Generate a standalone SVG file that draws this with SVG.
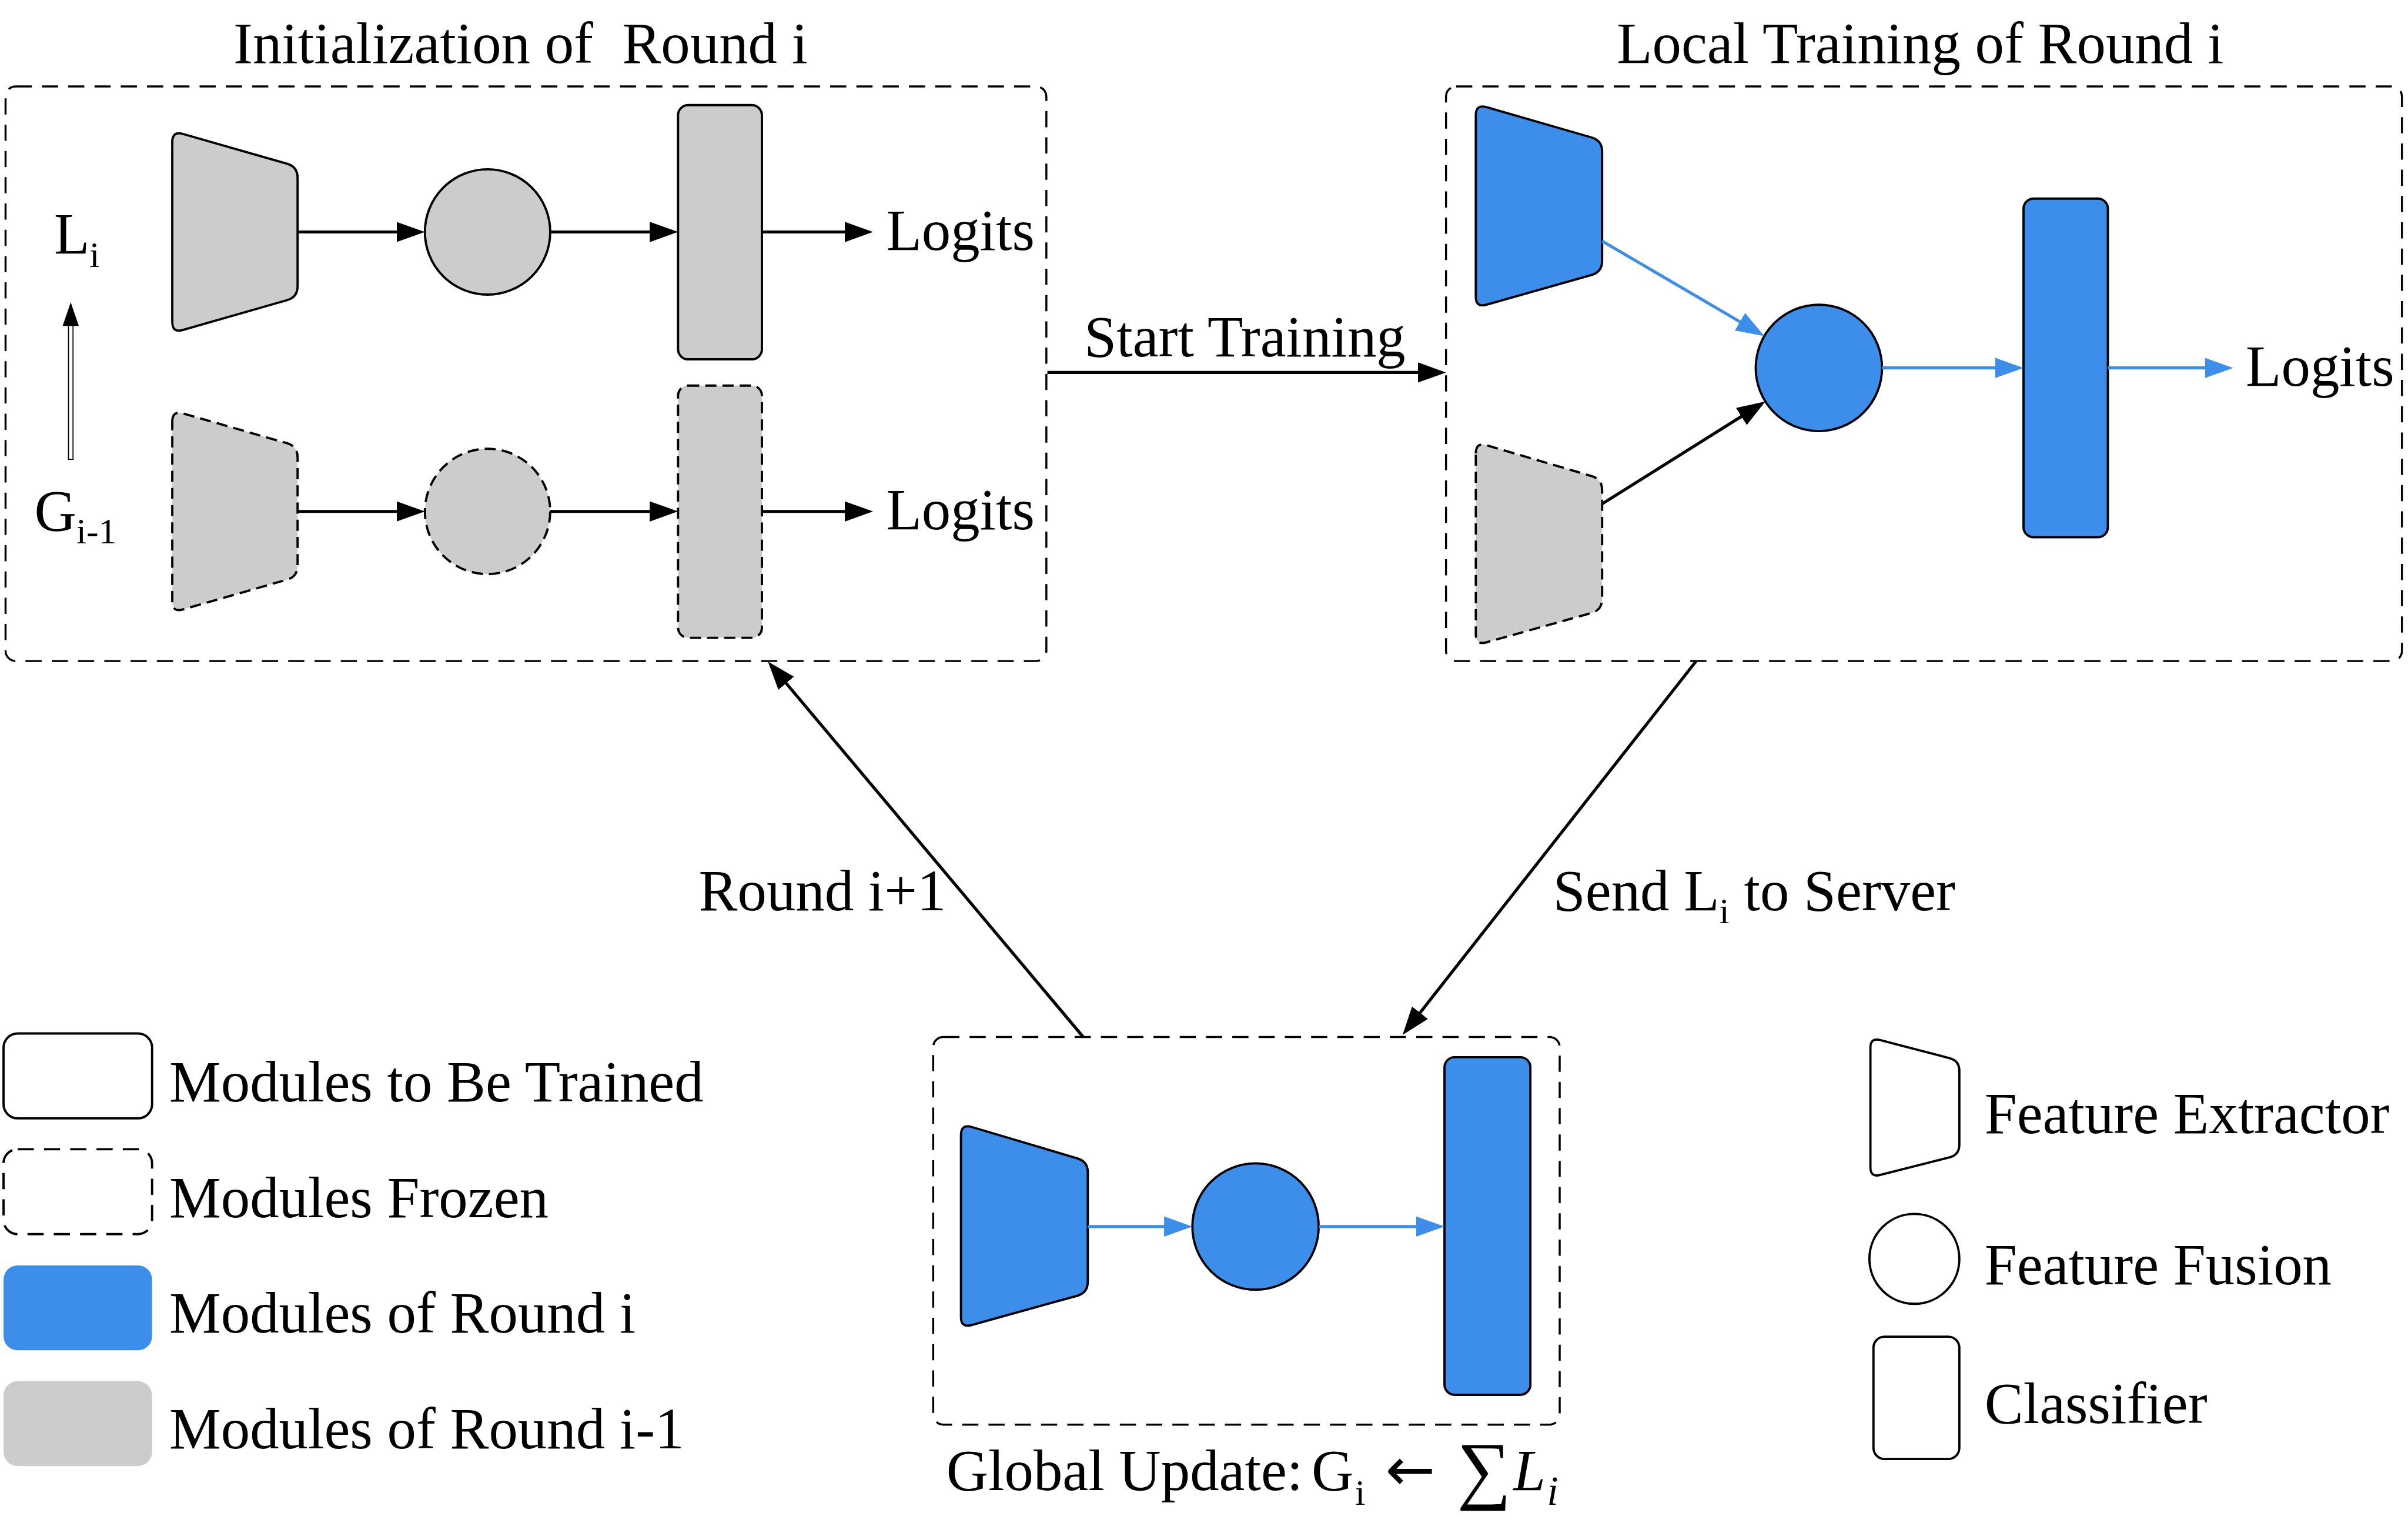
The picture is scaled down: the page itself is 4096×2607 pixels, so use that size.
<svg xmlns="http://www.w3.org/2000/svg" width="4096" height="2607" viewBox="0 0 4096 2607">
<defs>
<style>
.t{font-family:"Liberation Serif","Times New Roman",serif;font-size:115px;fill:#000}
.it{font-style:italic}
.box{fill:none;stroke:#000;stroke-width:4;stroke-dasharray:32 20}
.gray{fill:#cccccc;stroke:#000;stroke-width:4.5}
.blue{fill:#3c8eea;stroke:#000;stroke-width:4.5}
.white{fill:#fff;stroke:#000;stroke-width:4.5}
.dash{stroke-dasharray:22 12}
.ab{stroke:#000;stroke-width:6;fill:none}
.abl{stroke:#3c8eea;stroke-width:6;fill:none}
</style>
<marker id="ah" markerUnits="userSpaceOnUse" markerWidth="56" markerHeight="40" viewBox="0 0 56 40" refX="46" refY="20" orient="auto"><path d="M0,0L56,20L0,40z" fill="#000"/></marker>
<marker id="ahb" markerUnits="userSpaceOnUse" markerWidth="56" markerHeight="40" viewBox="0 0 56 40" refX="46" refY="20" orient="auto"><path d="M0,0L56,20L0,40z" fill="#3c8eea"/></marker>
</defs>
<rect width="4096" height="2607" fill="#fff"/>
<g transform="scale(0.85942)">
<!-- containers -->
<g id="init-box">
<rect class="box" x="11" y="171" width="2060" height="1137" rx="20"/>
<text class="t" x="462" y="124" xml:space="preserve">Initialization of  Round i</text>
</g>
<g id="local-box">
<rect class="box" x="2862" y="171" width="1892" height="1137" rx="20"/>
<text class="t" x="3200" y="124">Local Training of Round i</text>
</g>
<g id="global-box">
<rect class="box" x="1847" y="2052" width="1240" height="767" rx="20"/>
<text class="t" y="2948"><tspan x="1873">Global Update:</tspan><tspan x="2596">G</tspan><tspan x="2682" dy="30" font-size="72">i</tspan><tspan x="2742" dy="-30" font-family="DejaVu Sans, sans-serif" font-size="118">←</tspan><tspan x="2884" y="2958" font-size="150">∑</tspan><tspan class="it" x="2995" y="2948">L</tspan><tspan class="it" x="3062" dy="30" font-size="80">i</tspan></text>
</g>
<!-- init nodes -->
<g id="init-extractor-L">
<path class="gray" d="M341,281 Q341,259 362,265 L568,324 Q589,330 589,352 L589,566 Q589,588 568,594 L362,653 Q341,659 341,637 Z"/>
</g>
<g id="init-fusion-L"><circle class="gray" cx="965" cy="459" r="124"/></g>
<g id="init-classifier-L"><rect class="gray" x="1342" y="208" width="166" height="503" rx="20"/></g>
<g id="init-extractor-G">
<path class="gray dash" d="M341,834 Q341,812 362,818 L568,877 Q589,883 589,905 L589,1119 Q589,1141 568,1147 L362,1206 Q341,1212 341,1190 Z"/>
</g>
<g id="init-fusion-G"><circle class="gray dash" cx="965" cy="1012" r="124"/></g>
<g id="init-classifier-G"><rect class="gray dash" x="1342" y="763" width="166" height="499" rx="20"/></g>
<g id="init-labels">
<text class="t" x="1754" y="495">Logits</text>
<text class="t" x="1754" y="1047">Logits</text>
<text class="t" x="107" y="502">L<tspan dy="26" font-size="72">i</tspan></text>
<text class="t" x="68" y="1049">G<tspan dy="26" font-size="72">i-1</tspan></text>
</g>
<g id="init-updown">
<rect x="135.5" y="640" width="9" height="269" fill="#fff" stroke="#000" stroke-width="2"/>
<path d="M140,598 L124,645 L156,645 Z" fill="#000"/>
</g>
<!-- local nodes -->
<g id="local-extractor-L">
<path class="blue" d="M2921,228 Q2921,206 2942,212 L3150,272 Q3171,278 3171,300 L3171,516 Q3171,538 3150,544 L2942,603 Q2921,609 2921,587 Z"/>
</g>
<g id="local-extractor-G">
<path class="gray dash" d="M2921,897 Q2921,875 2942,881 L3150,942 Q3171,948 3171,970 L3171,1185 Q3171,1207 3150,1213 L2942,1271 Q2921,1277 2921,1255 Z"/>
</g>
<g id="local-fusion"><circle class="blue" cx="3600" cy="728" r="125"/></g>
<g id="local-classifier"><rect class="blue" x="4005" y="393" width="167" height="670" rx="20"/></g>
<g id="local-labels"><text class="t" x="4445" y="763">Logits</text></g>
<!-- global nodes -->
<g id="global-extractor">
<path class="blue" d="M1902,2246 Q1902,2224 1923,2230 L2132,2292 Q2153,2298 2153,2320 L2153,2536 Q2153,2558 2132,2564 L1923,2622 Q1902,2628 1902,2606 Z"/>
</g>
<g id="global-fusion"><circle class="blue" cx="2485" cy="2427" r="125"/></g>
<g id="global-classifier"><rect class="blue" x="2859" y="2092" width="170" height="668" rx="20"/></g>
<!-- legend -->
<g id="legend-trained"><rect class="white" x="7" y="2045" width="294" height="168" rx="28"/><text class="t" x="335" y="2179">Modules to Be Trained</text></g>
<g id="legend-frozen"><rect class="white" style="stroke-dasharray:32 20" x="7" y="2274" width="294" height="168" rx="28"/><text class="t" x="335" y="2409">Modules Frozen</text></g>
<g id="legend-round-i"><rect x="7" y="2504" width="294" height="168" rx="28" fill="#3c8eea"/><text class="t" x="335" y="2637">Modules of Round i</text></g>
<g id="legend-round-i-1"><rect x="7" y="2733" width="294" height="168" rx="28" fill="#cccccc"/><text class="t" x="335" y="2866">Modules of Round i-1</text></g>
<g id="legend-extractor">
<path class="white" d="M3702,2073 Q3702,2053 3721,2058 L3859,2094 Q3878,2099 3878,2119 L3878,2265 Q3878,2285 3859,2290 L3721,2325 Q3702,2330 3702,2310 Z"/>
<text class="t" x="3928" y="2242">Feature Extractor</text>
</g>
<g id="legend-fusion"><circle class="white" cx="3789" cy="2491" r="89"/><text class="t" x="3928" y="2541">Feature Fusion</text></g>
<g id="legend-classifier"><rect class="white" x="3708" y="2645" width="170" height="242" rx="22"/><text class="t" x="3928" y="2816">Classifier</text></g>
<!-- connectors -->
<g id="connectors">
<line class="ab" x1="589" y1="459" x2="831" y2="459" marker-end="url(#ah)"/>
<line class="ab" x1="1089" y1="459" x2="1332" y2="459" marker-end="url(#ah)"/>
<line class="ab" x1="1508" y1="459" x2="1718" y2="459" marker-end="url(#ah)"/>
<line class="ab" x1="589" y1="1012" x2="831" y2="1012" marker-end="url(#ah)"/>
<line class="ab" x1="1089" y1="1012" x2="1332" y2="1012" marker-end="url(#ah)"/>
<line class="ab" x1="1508" y1="1012" x2="1718" y2="1012" marker-end="url(#ah)"/>
<line class="ab" x1="2073" y1="737" x2="2852" y2="737" marker-end="url(#ah)"/>
<text class="t" x="2146" y="705">Start Training</text>
<line class="abl" x1="3171" y1="477" x2="3483.4" y2="659.9" marker-end="url(#ahb)"/>
<line class="ab" x1="3171" y1="997" x2="3485.6" y2="799.7" marker-end="url(#ah)"/>
<line class="abl" x1="3725" y1="728" x2="3995" y2="728" marker-end="url(#ahb)"/>
<line class="abl" x1="4172" y1="728" x2="4410" y2="728" marker-end="url(#ahb)"/>
<line class="abl" x1="2153" y1="2427" x2="2350" y2="2427" marker-end="url(#ahb)"/>
<line class="abl" x1="2611" y1="2427" x2="2849" y2="2427" marker-end="url(#ahb)"/>
<line class="ab" x1="3358" y1="1307" x2="2782.2" y2="2040.1" marker-end="url(#ah)"/>
<line class="ab" x1="2144" y1="2052" x2="1526.4" y2="1316.7" marker-end="url(#ah)"/>
<text class="t" x="1383" y="1801">Round i+1</text>
<text class="t" x="3074" y="1801">Send L<tspan dy="26" font-size="72">i</tspan><tspan dy="-26"> to Server</tspan></text>
</g>
</g>
</svg>
